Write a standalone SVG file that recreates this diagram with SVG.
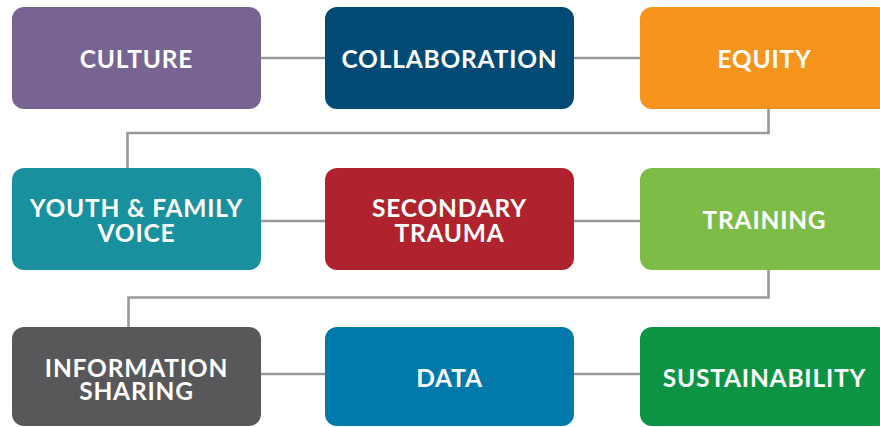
<svg xmlns="http://www.w3.org/2000/svg" width="880" height="427" viewBox="0 0 880 427">
<style>
.box{stroke:none}
.t{font-family:Lato,"Open Sans","Liberation Sans",sans-serif;font-weight:700;font-size:24.5px;fill:#ffffff;text-anchor:middle;letter-spacing:0.8px}
.c{fill:none;stroke:#9a9a9c;stroke-width:2.6}
</style>
<rect width="880" height="427" fill="#ffffff"/>
<g id="connectors">
<line class="c" x1="261" y1="58" x2="325" y2="58"/>
<line class="c" x1="574" y1="58" x2="640" y2="58"/>
<polyline class="c" points="768.5,109 768.5,133 127.5,133 127.5,168"/>
<line class="c" x1="261" y1="221" x2="325" y2="221"/>
<line class="c" x1="574" y1="221" x2="640" y2="221"/>
<polyline class="c" points="768.5,270 768.5,297.5 128.5,297.5 128.5,327"/>
<line class="c" x1="261" y1="374" x2="325" y2="374"/>
<line class="c" x1="574" y1="374" x2="640" y2="374"/>
</g>
<g id="culture"><rect class="box" x="12" y="7" width="249" height="102" rx="12" fill="#786493"/><text class="t" x="136.5" y="68">CULTURE</text></g>
<g id="collaboration"><rect class="box" x="325" y="7" width="249" height="102" rx="12" fill="#004a75"/><text class="t" x="449.5" y="68">COLLABORATION</text></g>
<g id="equity"><rect class="box" x="640" y="7" width="249" height="102" rx="12" fill="#f7941e"/><text class="t" x="764.5" y="68">EQUITY</text></g>
<g id="youth"><rect class="box" x="12" y="168" width="249" height="102" rx="12" fill="#18909d"/><text class="t" x="136.5" y="217">YOUTH &amp; FAMILY</text><text class="t" x="136.5" y="242">VOICE</text></g>
<g id="secondary"><rect class="box" x="325" y="168" width="249" height="102" rx="12" fill="#b0232e"/><text class="t" x="449.5" y="217">SECONDARY</text><text class="t" x="449.5" y="242">TRAUMA</text></g>
<g id="training"><rect class="box" x="640" y="168" width="249" height="102" rx="12" fill="#7dbd47"/><text class="t" x="764.5" y="229">TRAINING</text></g>
<g id="information"><rect class="box" x="12" y="327" width="249" height="99" rx="12" fill="#58585a"/><text class="t" x="136.5" y="377">INFORMATION</text><text class="t" x="136.5" y="400">SHARING</text></g>
<g id="data"><rect class="box" x="325" y="327" width="249" height="99" rx="12" fill="#0079ab"/><text class="t" x="449.5" y="387">DATA</text></g>
<g id="sustainability"><rect class="box" x="640" y="327" width="249" height="99" rx="12" fill="#0c9444"/><text class="t" x="764.5" y="387">SUSTAINABILITY</text></g>
</svg>
